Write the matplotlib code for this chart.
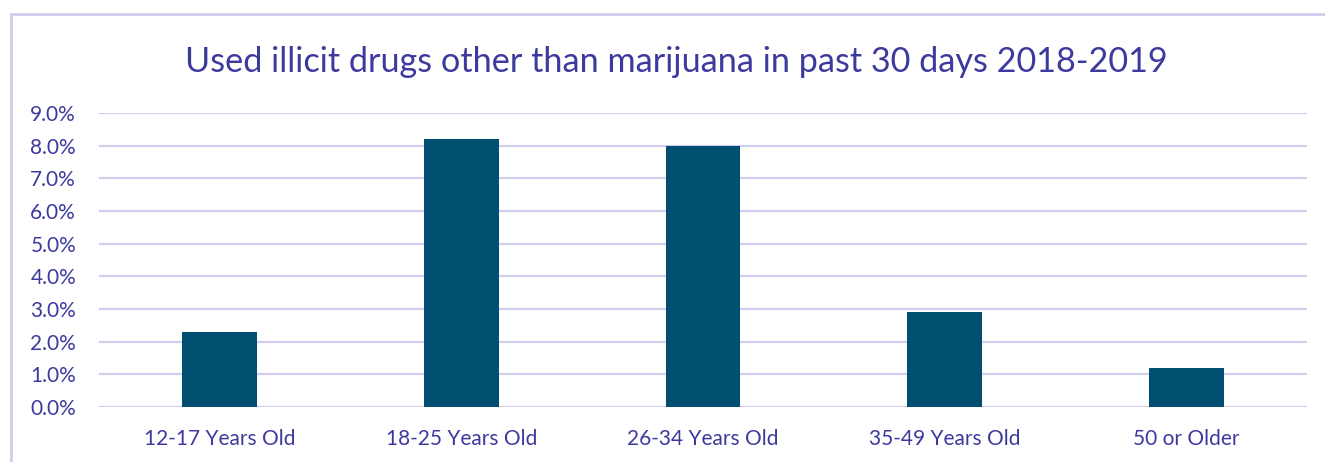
import numpy as np
import matplotlib.pyplot as plt
from matplotlib.patches import Rectangle
from matplotlib.ticker import FuncFormatter

categories = ['12-17 Years Old', '18-25 Years Old', '26-34 Years Old', '35-49 Years Old', '50 or Older']
values = [2.3, 8.2, 8.0, 2.9, 1.2]  # percent
yticks = [0.0, 1.0, 2.0, 3.0, 4.0, 5.0, 6.0, 7.0, 8.0, 9.0]

txt = '#3d3a9e'
bar_c = '#004f71'
grid_c = '#d2cdef'

plt.rcParams['font.family'] = ['Lato', 'DejaVu Sans']

fig = plt.figure(figsize=(13.25, 4.62), dpi=100)
# outer chart border
fig.patches.append(Rectangle((11/1325, -0.1), 1.2, (462-14)/462 + 0.1, transform=fig.transFigure,
                             fill=False, edgecolor=grid_c, linewidth=2))

ax = fig.add_axes([99/1325, (462-407)/462, (1307-99)/1325, (407-113)/462])
x = np.arange(len(categories))
ax.bar(x, values, width=0.31, color=bar_c, zorder=3)
ax.set_xlim(-0.5, len(categories) - 0.5)
ax.set_ylim(0, 9.0)
ax.set_yticks(yticks)
ax.yaxis.set_major_formatter(FuncFormatter(lambda v, p: '%.1f%%' % v))
ax.set_xticks(x)
ax.set_xticklabels(categories)
ax.grid(axis='y', color=grid_c, linewidth=1.6, zorder=0)
for s in ax.spines.values():
    s.set_visible(False)
ax.tick_params(axis='both', length=0, labelsize=15, labelcolor=txt)
ax.tick_params(axis='y', pad=16.5)
ax.tick_params(axis='x', pad=16)

fig.text(676/1325, 1 - 62/462, 'Used illicit drugs other than marijuana in past 30 days 2018-2019',
         ha='center', va='center', fontsize=24.7, color=txt)

fig.savefig('out.png', dpi=100)
